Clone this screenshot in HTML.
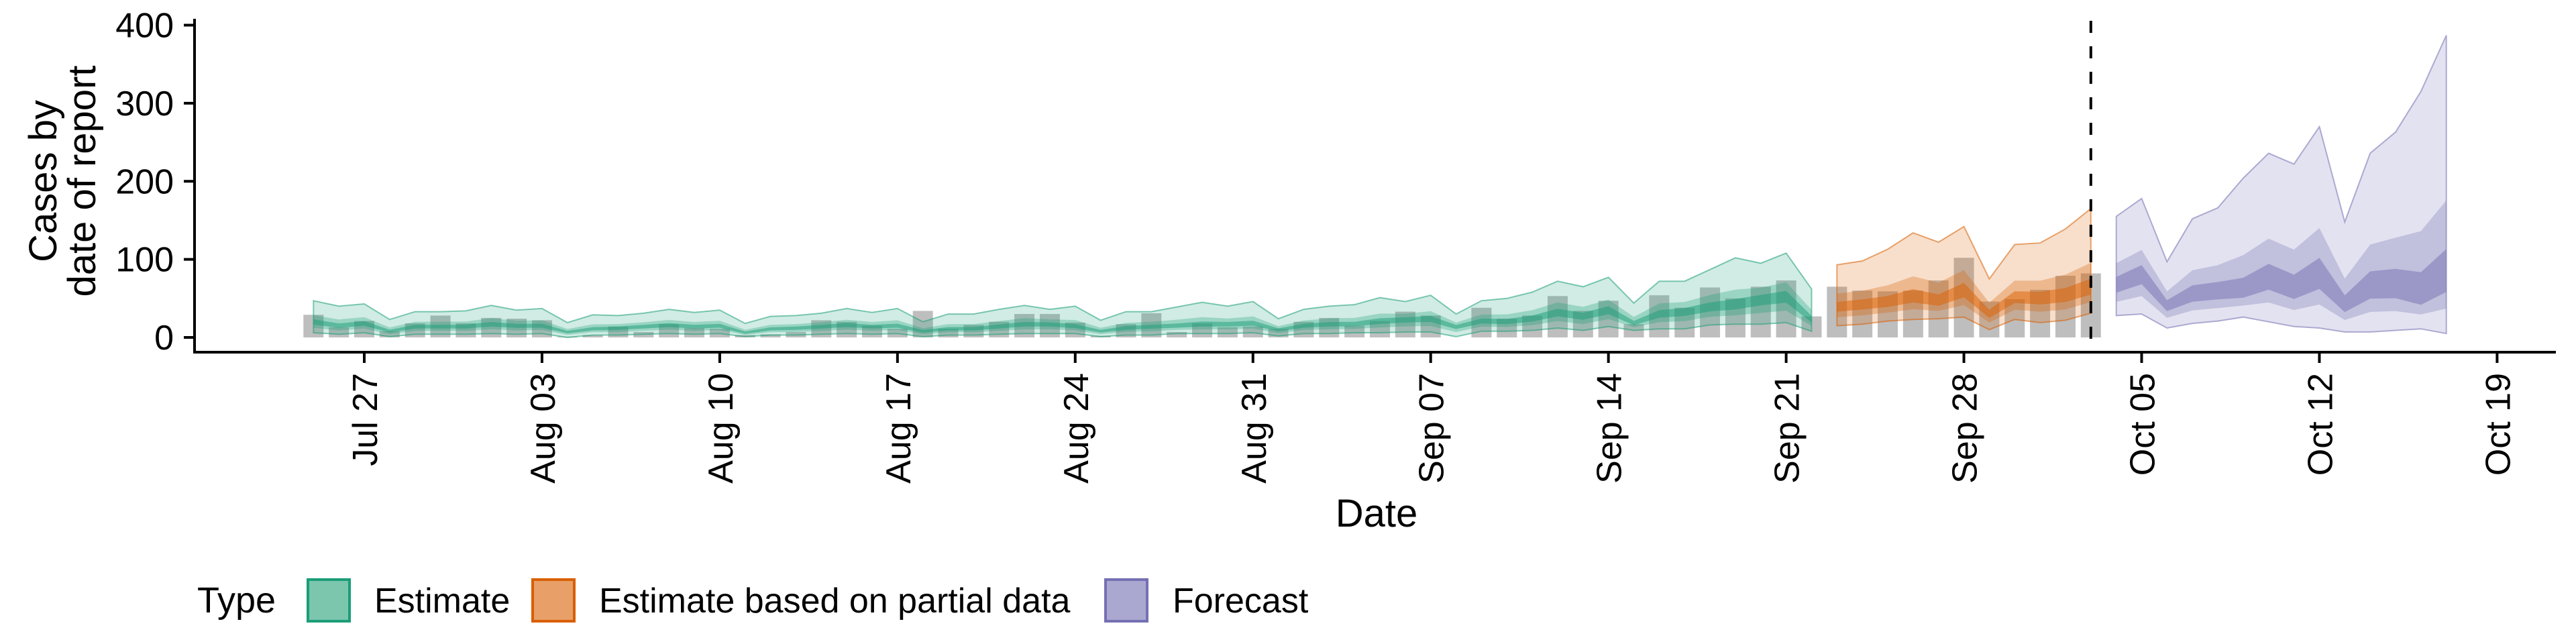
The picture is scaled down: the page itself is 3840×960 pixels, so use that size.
<!DOCTYPE html>
<html><head><meta charset="utf-8">
<style>
html,body{margin:0;padding:0;background:#fff;}
svg{display:block;font-family:"Liberation Sans",sans-serif;}
</style></head>
<body>
<svg id="chart" width="3840" height="960" viewBox="0 0 3840 960" xmlns="http://www.w3.org/2000/svg">
<rect width="3840" height="960" fill="#fff"/>
<g id="bars"></g>
<g id="bands"></g>
<g id="axes"></g>
<text font-size="58" text-anchor="middle" transform="translate(84,270) rotate(-90)">Cases by</text>
<text font-size="58" text-anchor="middle" transform="translate(142,270) rotate(-90)">date of report</text>
<text font-size="58" text-anchor="middle" x="2052" y="785">Date</text>
<g>
<text x="294" y="913" font-size="54">Type</text>
<rect x="459" y="864" width="62" height="62" fill="#7cc6ae" stroke="#1b9e77" stroke-width="4"/>
<text x="558" y="913" font-size="52">Estimate</text>
<rect x="794" y="864" width="62" height="62" fill="#e8a068" stroke="#d95f02" stroke-width="4"/>
<text x="893" y="913" font-size="52">Estimate based on partial data</text>
<rect x="1648" y="864" width="62" height="62" fill="#aaa8d0" stroke="#7570b3" stroke-width="4"/>
<text x="1748" y="913" font-size="52">Forecast</text>
</g>
</svg>
<script>
// day offsets relative to Jul 27
const barStart = -2;
const barValues = [29,13,21,8,18,28,18,25,24,22,1,3,14,7,17,12,11,3,4,7,22,20,15,11,34,11,16,20,30,
30,19,2,17,31,7,18,13,14,11,20,25,15,21,33,28,0,38,24,28,53,34,47,17,54,38,64,50,
65,73,27,65,60,59,60,73,102,46,49,61,79,82];
const estStart = -2;
const estMedian = [20,15,18,8,14,14,14,17,15,15,7,11,12,14,16,14,15,6,11,12,14,16,14,15,8,11,11,14,17,
17,14,8,12,14,15,17,17,18,10,15,17,17,21,23,24,14,21,20,24,32,27,35,18,30,33,39,42,49,53,23];
const estUpper = [47,40,43,23,33,33,34,41,35,37,19,29,28,31,36,32,35,18,27,28,31,37,32,37,20,30,30,36,41,
36,40,22,33,33,39,45,40,46,24,36,40,42,51,46,54,30,47,50,58,72,65,77,44,72,72,87,102,95,108,62];
const estLower = [6,4,6,1,4,4,4,5,4,5,0,3,3,4,5,4,5,1,3,3,4,5,4,5,1,3,3,4,5,
5,5,1,3,3,5,5,5,6,2,5,5,6,6,7,7,1,8,8,9,12,9,14,9,11,11,16,17,17,19,8];
const partStart = 58;
const partMedian = [39,42,45,52,46,60,30,51,50,53,63];
const partUpper = [93,98,113,134,122,142,75,119,121,139,165];
const partLower = [15,17,21,23,24,26,10,23,19,22,31];
const fcStart = 69;
const fcMedian = [67,81,41,55,58,59,75,61,79,41,64,64,52,76];
const fcUpper = [155,178,97,152,166,204,236,222,270,148,236,263,315,387];
const fcLower = [28,30,12,18,21,26,20,14,12,7,7,9,11,5];
const yTicks = [0,100,200,300,400];
const xTickLabels = ["Jul 27","Aug 03","Aug 10","Aug 17","Aug 24","Aug 31","Sep 07","Sep 14","Sep 21","Sep 28","Oct 05","Oct 12","Oct 19"];
const forecastDateDay = 68;

const NS = "http://www.w3.org/2000/svg";
function xS(d){ return 543 + 37.85*d; }
function yS(v){ return 503 - 1.16375*v; }
function mk(tag, attrs, parent){
  const e = document.createElementNS(NS, tag);
  for (const k in attrs) e.setAttribute(k, attrs[k]);
  parent.appendChild(e);
  return e;
}
const barsG = document.getElementById('bars');
barValues.forEach((v,i)=>{
  const d = barStart + i;
  const r = mk('rect',{x:xS(d)-15, y:yS(v), width:30, height:Math.max(0,yS(0)-yS(v)), fill:'#bebebe'}, barsG);
  
  
});
const bandsG = document.getElementById('bands');
function band(start, lo, hi, color, alpha, name, stroke){
  let pts = [];
  hi.forEach((v,i)=>pts.push(xS(start+i).toFixed(1)+','+yS(v).toFixed(1)));
  for (let i=lo.length-1;i>=0;i--) pts.push(xS(start+i).toFixed(1)+','+yS(lo[i]).toFixed(1));
  const p = mk('polygon',{points:pts.join(' '), fill:color, 'fill-opacity':alpha}, bandsG);
  if (stroke){ p.setAttribute('stroke', color); p.setAttribute('stroke-width', 2); p.setAttribute('stroke-opacity', 0.55); }
  
  
}
function series(start, med, lo, hi, color, prefix, strokeOuter){
  const hi50 = med.map((m,i)=>m+0.32*(hi[i]-m));
  const lo50 = med.map((m,i)=>m-0.55*(m-lo[i]));
  const hi20 = med.map((m,i)=>m+0.12*(hi[i]-m));
  const lo20 = med.map((m,i)=>m-0.25*(m-lo[i]));
  band(start, lo, hi, color, 0.2, prefix+'-band-90', strokeOuter);
  band(start, lo50, hi50, color, 0.3, prefix+'-band-50', false);
  band(start, lo20, hi20, color, 0.5, prefix+'-band-20', false);
}
series(estStart, estMedian, estLower, estUpper, '#1b9e77', 'estimate', true);
series(partStart, partMedian, partLower, partUpper, '#d95f02', 'partial', true);
series(fcStart, fcMedian, fcLower, fcUpper, '#7570b3', 'forecast', true);

const axesG = document.getElementById('axes');
const dl = mk('line',{x1:xS(forecastDateDay), x2:xS(forecastDateDay), y1:31, y2:525, stroke:'#000', 'stroke-width':4, 'stroke-dasharray':'18,20'}, axesG);


const ya = mk('line',{x1:290,x2:290,y1:28,y2:527,stroke:'#000','stroke-width':4}, axesG);


const xa = mk('line',{x1:288,x2:3810,y1:525,y2:525,stroke:'#000','stroke-width':4}, axesG);


yTicks.forEach(t=>{
  const tk = mk('line',{x1:274,x2:290,y1:yS(t),y2:yS(t),stroke:'#000','stroke-width':4}, axesG);
  
  
  const tx = mk('text',{x:259,y:yS(t)+18,'font-size':52,'text-anchor':'end'}, axesG);
  tx.textContent = t;
  
  
});
xTickLabels.forEach((lab,i)=>{
  const x = xS(i*7);
  const tk = mk('line',{x1:x,x2:x,y1:525,y2:541,stroke:'#000','stroke-width':4}, axesG);
  
  
  const tx = mk('text',{'font-size':52,'text-anchor':'end','transform':'translate('+(x+19)+',556) rotate(-90)'}, axesG);
  tx.textContent = lab;
  
  
});
</script>
</body></html>
